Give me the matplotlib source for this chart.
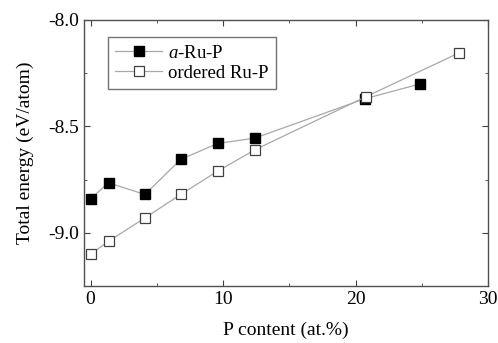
import matplotlib
matplotlib.use('Agg')
import matplotlib.pyplot as plt
from matplotlib.ticker import MultipleLocator

plt.rcParams['font.family'] = ['Liberation Serif', 'DejaVu Serif']
plt.rcParams['mathtext.fontset'] = 'custom'
plt.rcParams['mathtext.it'] = 'Liberation Serif:italic'
plt.rcParams['mathtext.rm'] = 'Liberation Serif'

# data
x_amorph = [0, 1.35, 4.1, 6.8, 9.6, 12.4, 20.7, 24.9]
e_amorph = [-8.84, -8.765, -8.82, -8.655, -8.58, -8.555, -8.37, -8.30]
x_order = [0, 1.35, 4.1, 6.8, 9.6, 12.4, 20.8, 27.8]
e_order = [-9.10, -9.04, -8.93, -8.82, -8.71, -8.61, -8.36, -8.155]

fig = plt.figure(figsize=(4.98, 3.43), dpi=100)
ax = fig.add_axes([84/498, 1-286/343, (488-84)/498, (286-20)/343])

ax.plot(x_amorph, e_amorph, color='#a8a8a8', lw=0.9, marker='s', ms=6.5,
        mfc='black', mec='black', label=r'$\mathit{a}$-Ru-P')
ax.plot(x_order, e_order, color='#a8a8a8', lw=0.9, marker='s', ms=6.5,
        mfc='white', mec='#404040', mew=0.9, label='ordered Ru-P')

ax.set_xlim(-0.5, 30)
ax.set_ylim(-9.25, -8.0)
ax.xaxis.set_major_locator(MultipleLocator(10))
ax.xaxis.set_minor_locator(MultipleLocator(5))
ax.yaxis.set_minor_locator(MultipleLocator(0.25))
ax.set_yticks([-8.0, -8.5, -9.0])
ax.set_yticklabels(['-8.0', '-8.5', '-9.0'])
ax.tick_params(which='both', direction='in', top=True, right=True, labelsize=14, color='#404040')
ax.tick_params(which='major', length=4)
ax.tick_params(which='minor', length=2.5)
for s in ax.spines.values():
    s.set_color('#505050')
    s.set_linewidth(1.0)

ax.set_xlabel('P content (at.%)', fontsize=14, labelpad=10)
ax.set_ylabel('Total energy (eV/atom)', fontsize=14, labelpad=10)

leg = ax.legend(loc='upper left', bbox_to_anchor=(0.059, 0.936), borderaxespad=0,
                fontsize=13.5, frameon=True, fancybox=False, edgecolor='#505050',
                handlelength=2.5, handletextpad=0.3, borderpad=0.4, labelspacing=0.15)
leg.get_frame().set_linewidth(1.0)

fig.savefig('out.png', dpi=100)
